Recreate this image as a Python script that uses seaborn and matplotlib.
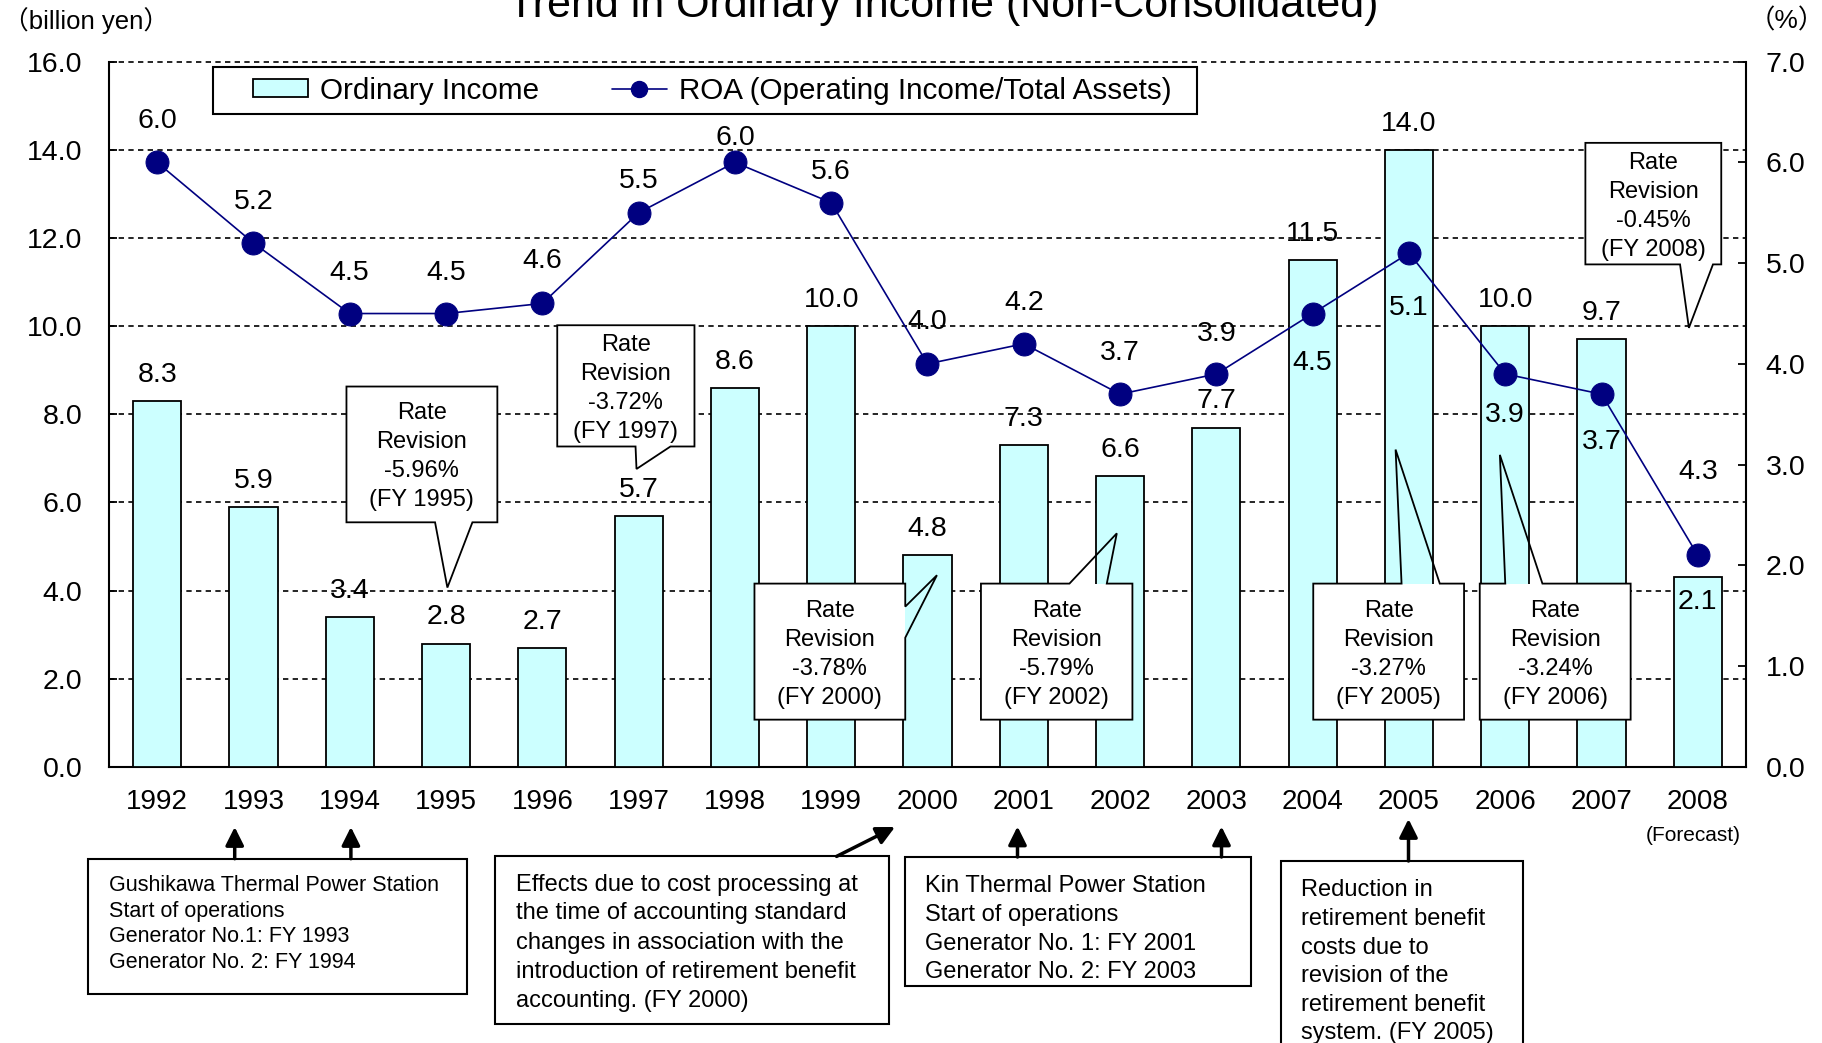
import numpy as np
import pandas as pd
import matplotlib
matplotlib.use("Agg")
import matplotlib.pyplot as plt
from matplotlib.patches import Rectangle, Polygon, Patch, FancyArrowPatch
from matplotlib.lines import Line2D
from matplotlib.transforms import Affine2D
import seaborn as sns

# ---------------------------------------------------------------- data
years = ["1992", "1993", "1994", "1995", "1996", "1997", "1998", "1999", "2000",
         "2001", "2002", "2003", "2004", "2005", "2006", "2007", "2008"]
ordinary_income = [8.3, 5.9, 3.4, 2.8, 2.7, 5.7, 8.6, 10.0, 4.8,
                   7.3, 6.6, 7.7, 11.5, 14.0, 10.0, 9.7, 4.3]          # billion yen
roa = [6.0, 5.2, 4.5, 4.5, 4.6, 5.5, 6.0, 5.6, 4.0,
       4.2, 3.7, 3.9, 4.5, 5.1, 3.9, 3.7, 2.1]                          # %
income_ticks = [0.0, 2.0, 4.0, 6.0, 8.0, 10.0, 12.0, 14.0, 16.0]
roa_ticks = [0.0, 1.0, 2.0, 3.0, 4.0, 5.0, 6.0, 7.0]
revision_years = ["1995", "1997", "2000", "2002", "2005", "2006", "2008"]
revision_rates = ["-5.96%", "-3.72%", "-3.78%", "-5.79%", "-3.27%", "-3.24%", "-0.45%"]

# ---------------------------------------------------------------- label placement (points)
income_label_dy = [21] * 16 + [78]
roa_label_dy = [31.7, 31.7, 31.7, 31.7, 32.4, 25.2, 19.4, 24.5, 32.4,
                31.7, 31.7, 31.0, -33.1, -37.4, -27.4, -32.4, -31.7]

BAR_COLOR = "#CCFFFF"
LINE_COLOR = "#000080"

sns.set_style("white", {"axes.edgecolor": "black", "text.color": "black",
                        "xtick.color": "black", "ytick.color": "black",
                        "axes.labelcolor": "black"})
plt.rcParams["font.family"] = ["Liberation Sans", "Noto Sans CJK JP", "DejaVu Sans"]

W, H = 1822, 1043
fig = plt.figure(figsize=(W / 100, H / 100), dpi=100)
fig.patch.set_facecolor("white")
# pixel coordinates measured from the top-left corner of the figure
px = Affine2D().scale(1 / W, -1 / H).translate(0, 1) + fig.transFigure

ax = fig.add_axes([109 / W, 1 - 767 / H, (1746 - 109) / W, (767 - 61.6) / H])
df = pd.DataFrame({"year": years, "income": ordinary_income, "roa": roa})

# ---------------------------------------------------------------- bars (left axis)
sns.barplot(data=df, x="year", y="income", ax=ax, width=0.5, color=BAR_COLOR,
            saturation=1, edgecolor="black", linewidth=1.3, zorder=3)
ax.set_xlabel("")
ax.set_ylabel("")
ax.set_ylim(0, 16)
ax.set_yticks(income_ticks)
ax.set_yticklabels([f"{v:.1f}" for v in income_ticks])
ax.set_axisbelow(True)
ax.yaxis.grid(True, color="black", linestyle=(0, (3.2, 2.6)), linewidth=1.2)
for gl in ax.get_ygridlines():
    gl.set_clip_on(False)
ax.xaxis.grid(False)
ax.tick_params(axis="y", direction="in", length=6, width=1.3, pad=19, labelsize=20.5)
ax.tick_params(axis="x", which="major", length=0, pad=16, labelsize=20)
ax.set_xticks(np.arange(-0.5, len(years), 1.0), minor=True)
ax.tick_params(axis="x", which="minor", direction="in", length=6, width=1.3)
for side in ("left", "bottom"):
    ax.spines[side].set_linewidth(1.5)
    ax.spines[side].set_color("black")
ax.spines["top"].set_visible(False)
ax.spines["right"].set_visible(False)

for i, v in enumerate(ordinary_income):
    ax.annotate(f"{v:.1f}", (i, v), xytext=(0, income_label_dy[i]),
                textcoords="offset points", ha="center", va="center_baseline",
                fontsize=20.5, zorder=6)

# ---------------------------------------------------------------- ROA line (right axis)
ax2 = ax.twinx()
sns.lineplot(x=np.arange(len(years)), y=roa, ax=ax2, color=LINE_COLOR, marker="o",
             markersize=16.5, markeredgecolor=LINE_COLOR, linewidth=1.2, zorder=5)
ax2.set_ylim(0, 7)
ax2.set_yticks(roa_ticks)
ax2.set_yticklabels([f"{v:.1f}" for v in roa_ticks])
ax2.tick_params(axis="y", direction="in", length=6, width=1.3, pad=14, labelsize=20.5)
ax2.grid(False)
for side in ("left", "bottom", "top"):
    ax2.spines[side].set_visible(False)
ax2.spines["right"].set_linewidth(1.5)
ax2.spines["right"].set_color("black")
for i, v in enumerate(roa):
    ax2.annotate(f"{v:.1f}", (i, v), xytext=(0, roa_label_dy[i]),
                 textcoords="offset points", ha="center", va="center_baseline",
                 fontsize=20.5, zorder=6)
ax.set_xlim(-0.5, len(years) - 0.5)

# ---------------------------------------------------------------- rate revision callouts
# box = (x0, y0, x1, y1) in category / left-axis units; pointer drawn on one side
callout_geometry = [
    dict(box=(1.966, 5.55, 3.533, 8.63), side="bottom", base=(2.886, 3.274), tip=(3.014, 4.07)),
    dict(box=(4.155, 7.27, 5.580, 10.02), side="bottom", base=(4.968, 5.331), tip=(4.978, 6.76)),
    dict(box=(6.203, 1.074, 7.769, 4.16), side="right", base=(3.638, 2.933), tip=(8.098, 4.35)),
    dict(box=(8.555, 1.074, 10.128, 4.16), side="top", base=(9.474, 9.862), tip=(9.966, 5.30)),
    dict(box=(12.006, 1.074, 13.572, 4.16), side="top", base=(12.923, 13.320), tip=(12.861, 7.20)),
    dict(box=(13.735, 1.074, 15.302, 4.16), side="top", base=(14.000, 14.386), tip=(13.944, 7.08)),
    dict(box=(14.832, 11.40, 16.243, 14.157), side="bottom", base=(15.815, 16.157), tip=(15.907, 9.96)),
]


def callout_outline(box, side, base, tip):
    x0, y0, x1, y1 = box
    if side == "bottom":
        return [(x0, y1), (x1, y1), (x1, y0), (base[1], y0), tip, (base[0], y0), (x0, y0)]
    if side == "top":
        return [(x0, y1), (base[0], y1), tip, (base[1], y1), (x1, y1), (x1, y0), (x0, y0)]
    return [(x0, y1), (x1, y1), (x1, base[0]), tip, (x1, base[1]), (x1, y0), (x0, y0)]


pitch = 20.9
for geo, fy, rate in zip(callout_geometry, revision_years, revision_rates):
    x0, y0, x1, y1 = geo["box"]
    ax.add_patch(Rectangle((x0, y0), x1 - x0, y1 - y0, facecolor="white",
                           edgecolor="none", zorder=4))
    ax.add_patch(Polygon(callout_outline(**geo), closed=True, fill=False,
                         edgecolor="black", linewidth=1.3, zorder=4.5))
    lines = ["Rate", "Revision", rate, f"(FY {fy})"]
    cx, cy = (x0 + x1) / 2, (y0 + y1) / 2
    for k, txt in enumerate(lines):
        ax.annotate(txt, (cx, cy), xytext=(0, ((len(lines) - 1) / 2 - k) * pitch),
                    textcoords="offset points", ha="center", va="center_baseline",
                    fontsize=17, zorder=5)

# ---------------------------------------------------------------- titles and units
fig.text(943, 17.5, "Trend in Ordinary Income (Non-Consolidated)", transform=px,
         ha="center", va="baseline", fontsize=31)
fig.text(3, 21, "（billion yen）", transform=px, ha="left", va="center", fontsize=18.5)
fig.text(1787, 21, "（%）", transform=px, ha="center", va="center", fontsize=19)
fig.text(1693, 835.5, "(Forecast)", transform=px, ha="center", va="center", fontsize=15)

# ---------------------------------------------------------------- legend
fig.add_artist(Rectangle((212.6, 67.4), 984.3, 46.5, transform=px, facecolor="white",
                         edgecolor="black", linewidth=1.5, zorder=1))
handles = [Patch(facecolor=BAR_COLOR, edgecolor="black", linewidth=1.3),
           Line2D([], [], color=LINE_COLOR, marker="o", markersize=11.5, linewidth=1.2)]
fig.legend(handles, ["Ordinary Income", "ROA (Operating Income/Total Assets)"],
           loc="center left", bbox_to_anchor=(253 / W, 1 - 90.6 / H), ncol=2,
           frameon=False, fontsize=21.3, handlelength=1.87, handleheight=0.55,
           handletextpad=0.4, columnspacing=2.45, borderpad=0, borderaxespad=0)

# ---------------------------------------------------------------- notes below the axis
notes = [
    dict(box=(88.3, 858.7, 467.1, 993.5), x=109.2, y=883, pitch=25.6, size=15.5,
         lines=["Gushikawa Thermal Power Station", "Start of operations",
                "Generator No.1: FY 1993", "Generator No. 2: FY 1994"]),
    dict(box=(495.0, 856.4, 888.9, 1023.7), x=516, y=882, pitch=29, size=17,
         lines=["Effects due to cost processing at", "the time of accounting standard",
                "changes in association with the", "introduction of retirement benefit",
                "accounting. (FY 2000)"]),
    dict(box=(904.5, 857.0, 1250.5, 986.0), x=925, y=883, pitch=29, size=17,
         lines=["Kin Thermal Power Station", "Start of operations",
                "Generator No. 1: FY 2001", "Generator No. 2: FY 2003"]),
    dict(box=(1281.0, 861.0, 1522.5, 1070.0), x=1301.4, y=888, pitch=28.6, size=17,
         lines=["Reduction in", "retirement benefit", "costs due to",
                "revision of the", "retirement benefit", "system. (FY 2005)"]),
]
for note in notes:
    x0, y0, x1, y1 = note["box"]
    fig.add_artist(Rectangle((x0, y0), x1 - x0, y1 - y0, transform=px, facecolor="white",
                             edgecolor="black", linewidth=1.5, zorder=1))
    for k, txt in enumerate(note["lines"]):
        fig.text(note["x"], note["y"] + k * note["pitch"], txt, transform=px,
                 ha="left", va="center_baseline", fontsize=note["size"], zorder=2)

arrows = [((234.7, 858.7), (234.7, 827.0)), ((350.9, 858.7), (350.9, 827.0)),
          ((836.6, 856.4), (895.0, 827.0)),
          ((1017.5, 857.0), (1017.5, 826.5)), ((1221.5, 857.0), (1221.5, 826.5)),
          ((1408.5, 861.0), (1408.5, 819.0))]
for start, end in arrows:
    fig.add_artist(FancyArrowPatch(start, end, transform=px,
                                   arrowstyle="-|>,head_length=1.1,head_width=0.55",
                                   mutation_scale=10, linewidth=2.5, color="black",
                                   shrinkA=0, shrinkB=0, zorder=2))

fig.savefig("out.png", dpi=100, facecolor="white")
